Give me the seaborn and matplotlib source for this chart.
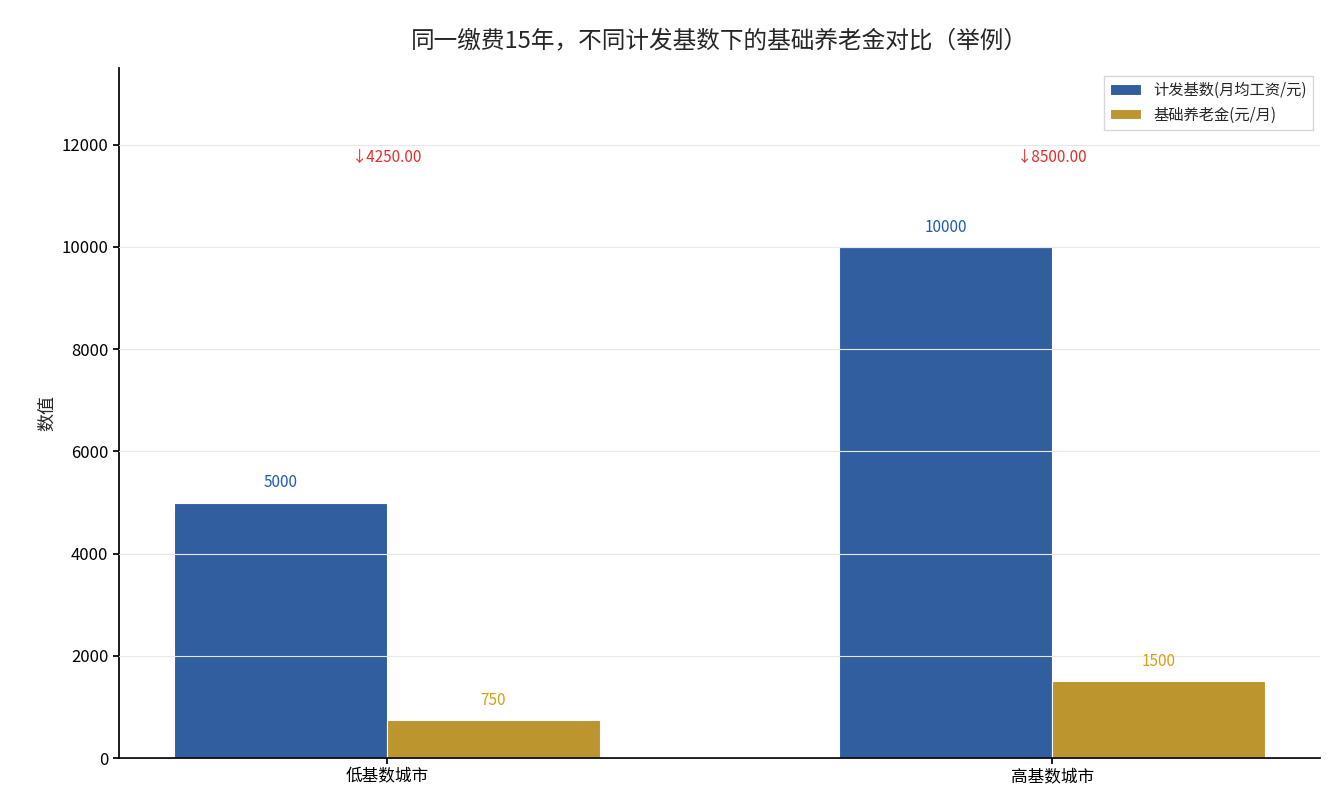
import matplotlib
matplotlib.use("Agg")
import matplotlib.pyplot as plt
import seaborn as sns
import pandas as pd

cities = ["低基数城市", "高基数城市"]
series = ["计发基数(月均工资/元)", "基础养老金(元/月)"]
base_wage = [5000, 10000]
pension = [750, 1500]
colors = ["#1f5bb0", "#d4a017"]

sns.set_theme(style="white")
plt.rcParams['font.family'] = ['Noto Sans CJK SC', 'DejaVu Sans']
plt.rcParams['axes.unicode_minus'] = False

df = pd.DataFrame({
    "city": cities * 2,
    "series": [series[0]] * 2 + [series[1]] * 2,
    "value": base_wage + pension,
})

fig, ax = plt.subplots(figsize=(13.35, 8.1), dpi=100)
fig.subplots_adjust(left=0.089, right=0.989, top=0.916, bottom=0.064)
sns.barplot(data=df, x="city", y="value", hue="series", palette=colors,
            width=0.64, edgecolor="white", linewidth=0.8, ax=ax, zorder=2)

ax.set_xlim(-0.403, 1.403)
ax.set_ylim(0, 13500)
ax.set_yticks(range(0, 13000, 2000))
ax.yaxis.grid(True, color="#e8e8e8", linewidth=0.8, zorder=3)
ax.set_axisbelow(False)
for s in ["top", "right"]:
    ax.spines[s].set_visible(False)
for s in ["left", "bottom"]:
    ax.spines[s].set_color("black")
ax.tick_params(axis="both", labelsize=12, colors="black", length=4, left=True, bottom=True)
ax.set_xlabel("")
ax.set_ylabel("数值", fontsize=13)
ax.set_title("同一缴费15年，不同计发基数下的基础养老金对比（举例）", fontsize=17, pad=14)

for cont, col in zip(ax.containers, colors):
    ax.bar_label(cont, fmt="%d", padding=8, color=col, fontsize=11)

for i, (w, p) in enumerate(zip(base_wage, pension)):
    ax.text(i, 11750, f"↓{w - p:.2f}", color="#e03030", ha="center", va="center", fontsize=11)

ax.legend(loc="upper right", fontsize=11, frameon=True, edgecolor="#cccccc", fancybox=False)
fig.savefig("out.png", dpi=100)
